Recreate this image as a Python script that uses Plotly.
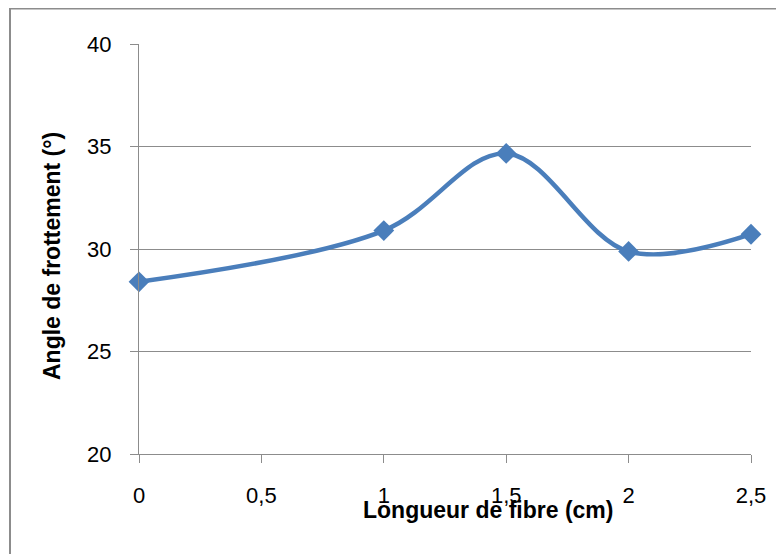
import plotly.graph_objects as go

x_vals = [0, 1, 1.5, 2, 2.5]
y_vals = [28.4, 30.9, 34.66, 29.88, 30.72]
x_ticks = [0, 0.5, 1, 1.5, 2, 2.5]
x_tick_labels = ["0", "0,5", "1", "1,5", "2", "2,5"]
y_ticks = [20, 25, 30, 35, 40]

OFF = 8  # page body margin
W, H = 784 - OFF, 554 - OFF
L, R, T, B = 131, 33, 36, 100
pw, ph = W - L - R, H - T - B

fig = go.Figure()
fig.add_trace(go.Scatter(
    x=x_vals, y=y_vals, mode="lines+markers",
    line=dict(color="#4A7EBB", width=4.5, shape="spline", smoothing=1.0),
    marker=dict(symbol="diamond", size=16, color="#4A7EBB"),
    showlegend=False, cliponaxis=False,
))

def px_x(p):
    return (p - OFF - L) / pw

def px_y(p):
    return (H - B - (p - OFF)) / ph

fig.update_layout(
    width=W, height=H,
    margin=dict(l=L, r=R, t=T, b=B),
    paper_bgcolor="white", plot_bgcolor="white",
    font=dict(family="Liberation Sans, Arial, sans-serif", color="black"),
    xaxis=dict(
        range=[0, 2.5], tickvals=x_ticks, ticktext=x_tick_labels,
        showgrid=False, zeroline=False, showline=True, linecolor="#8C8C8C", linewidth=1.3,
        ticks="outside", ticklen=8, tickcolor="#8C8C8C", tickwidth=1.3,
        tickfont=dict(size=22), ticklabelstandoff=13, fixedrange=True,
    ),
    yaxis=dict(
        range=[20, 40], tickvals=y_ticks,
        showgrid=True, gridcolor="#8C8C8C", gridwidth=1.3, zeroline=False,
        showline=True, linecolor="#8C8C8C", linewidth=1.3,
        ticks="outside", ticklen=8, tickcolor="#8C8C8C", tickwidth=1.3,
        tickfont=dict(size=22), ticklabelstandoff=14, fixedrange=True,
    ),
    shapes=[dict(
        type="rect", xref="paper", yref="paper",
        x0=px_x(10), x1=px_x(800), y0=px_y(580), y1=px_y(8.5),
        line=dict(color="#8C8C8C", width=2), fillcolor="rgba(0,0,0,0)", layer="below",
    )],
    annotations=[
        dict(text="<b>Longueur de fibre (cm)</b>", xref="paper", yref="paper",
             x=px_x(488), y=px_y(510), showarrow=False,
             font=dict(size=23, color="black"), xanchor="center", yanchor="middle"),
        dict(text="<b>Angle de frottement (°)</b>", xref="paper", yref="paper",
             x=px_x(52), y=px_y(256), showarrow=False, textangle=-90,
             font=dict(size=23, color="black"), xanchor="center", yanchor="middle"),
    ],
)

fig.write_html("out.html")
